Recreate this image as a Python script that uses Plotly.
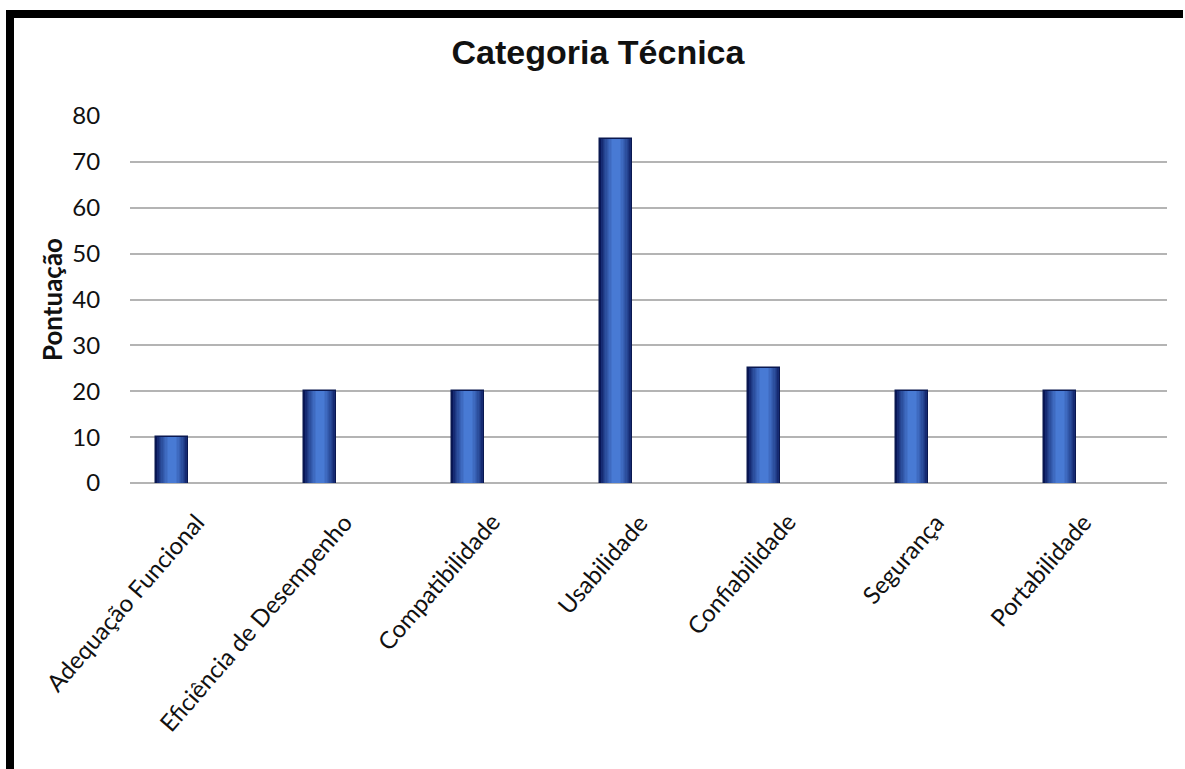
import plotly.graph_objects as go

# Scores per technical category
categorias = [
    "Adequação Funcional",
    "Eficiência de Desempenho",
    "Compatibilidade",
    "Usabilidade",
    "Confiabilidade",
    "Segurança",
    "Portabilidade",
]
pontuacao = [10, 20, 20, 75, 25, 20, 20]
y_ticks = [0, 10, 20, 30, 40, 50, 60, 70, 80]

W, H = 1185, 769
ML, MR, MT, MB = 130, 18, 116, 286
PW, PH = W - ML - MR, H - MT - MB


def px_to_paper_x(px):
    return (px - ML) / PW


def px_to_paper_y(py):
    return (H - MB - py) / PH


def mix(c1, c2, t):
    return "#" + "".join(
        f"{round(a + (b - a) * t):02x}" for a, b in zip(c1, c2)
    )


edge = (8, 22, 88)
centre = (72, 122, 212)

fig = go.Figure()

# Horizontal shading of each bar: stacked, narrowing layers from edge to centre
bar_w = 0.216
layers = 10
for i in range(layers):
    t = (i / (layers - 1)) ** 0.7
    w = bar_w * (1 - 0.75 * i / (layers - 1))
    fig.add_trace(
        go.Bar(
            x=categorias,
            y=pontuacao,
            width=w,
            marker=dict(
                color=mix(edge, centre, t),
                line=dict(color="#0a1850", width=1.5 if i == 0 else 0),
            ),
            showlegend=False,
            hoverinfo="skip" if i else "x+y",
        )
    )

# Rotated category labels under the axis
for cat in categorias:
    fig.add_annotation(
        x=cat,
        xref="x",
        y=px_to_paper_y(505),
        yref="paper",
        text=cat,
        showarrow=False,
        textangle=-49,
        xanchor="right",
        yanchor="top",
        xshift=40,
        font=dict(family="Lato, sans-serif", size=24, color="#111111"),
    )

# Frame lines along the top and left edges
fig.add_shape(
    type="rect", xref="paper", yref="paper",
    x0=px_to_paper_x(6), x1=px_to_paper_x(1183),
    y0=px_to_paper_y(18), y1=px_to_paper_y(10),
    fillcolor="black", line_width=0, layer="above",
)
fig.add_shape(
    type="rect", xref="paper", yref="paper",
    x0=px_to_paper_x(6), x1=px_to_paper_x(14),
    y0=px_to_paper_y(769), y1=px_to_paper_y(10),
    fillcolor="black", line_width=0, layer="above",
)

fig.update_layout(
    width=W,
    height=H,
    margin=dict(l=ML, r=MR, t=MT, b=MB),
    paper_bgcolor="white",
    plot_bgcolor="white",
    barmode="overlay",
    bargap=0,
    title=dict(
        text="<b>Categoria Técnica</b>",
        x=598 / W,
        xanchor="center",
        y=1 - 52 / H,
        yanchor="middle",
        font=dict(family="Liberation Sans, Arial, sans-serif", size=34, color="#111111"),
    ),
    xaxis=dict(
        range=[-0.284, 6.723],
        showticklabels=False,
        showgrid=False,
        zeroline=False,
        showline=False,
        ticks="",
    ),
    yaxis=dict(
        range=[0, 80],
        tickvals=y_ticks,
        showgrid=True,
        gridcolor="#b4b4b4",
        gridwidth=2,
        zeroline=True,
        zerolinecolor="#b4b4b4",
        zerolinewidth=2,
        showline=False,
        ticks="outside",
        ticklen=24,
        tickcolor="rgba(0,0,0,0)",
        tickfont=dict(family="Lato, sans-serif", size=24, color="#111111"),
        title=dict(
            text="<b>Pontuação</b>",
            font=dict(family="Lato, sans-serif", size=26, color="#111111"),
            standoff=2,
        ),
    ),
)

fig.write_html("out.html")
